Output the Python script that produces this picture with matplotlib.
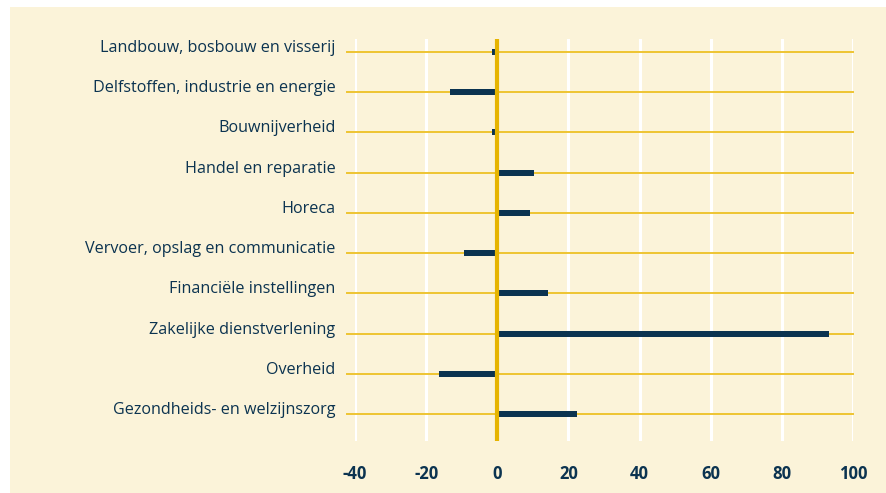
import matplotlib.pyplot as plt
from matplotlib.patches import Rectangle

categories = [
    "Landbouw, bosbouw en visserij",
    "Delfstoffen, industrie en energie",
    "Bouwnijverheid",
    "Handel en reparatie",
    "Horeca",
    "Vervoer, opslag en communicatie",
    "Financiële instellingen",
    "Zakelijke dienstverlening",
    "Overheid",
    "Gezondheids- en welzijnszorg",
]
values = [-1.4, -13.2, -1.4, 10.4, 9.3, -9.3, 14.3, 93.2, -16.3, 22.4]
xticks = [-40, -20, 0, 20, 40, 60, 80, 100]

navy = "#0b3350"
gold = "#e6b400"
line_gold = "#eec431"
cream = "#fbf3d9"

W, H = 886, 493
fig = plt.figure(figsize=(W / 100, H / 100), dpi=100)
fig.patch.set_facecolor("white")
fig.patches.append(Rectangle((10 / W, 0), 1, 1 - 7 / H, transform=fig.transFigure,
                             facecolor=cream, edgecolor="none", zorder=-10))

ax = fig.add_axes([355 / W, 1 - 441 / H, (853 - 355) / W, (441 - 39) / H])
ax.set_facecolor(cream)
for s in ax.spines.values():
    s.set_visible(False)

ypos = list(range(len(categories)))

# horizontal category lines, extending a bit left of the axes
for y in ypos:
    ax.plot([-42.3, 100], [y, y], color=line_gold, lw=1.4, zorder=1, clip_on=False)

# white vertical gridlines
for x in xticks:
    if x != 0:
        ax.axvline(x, color="white", lw=2.2, zorder=0.5)

# bars, offset slightly from the zero line
lefts = [0.5 if v > 0 else v for v in values]
widths = [v - 0.5 if v > 0 else -v - 0.3 for v in values]
ax.barh(ypos, widths, left=lefts, height=0.15, color=navy, zorder=3)

ax.axvline(0, color=gold, lw=3, zorder=4)

ax.set_xlim(-40, 100)
ax.set_ylim(9.67, -0.32)

ax.set_yticks(ypos)
ax.set_yticklabels(categories, fontsize=11.6, color=navy, fontfamily="Open Sans")
ax.tick_params(axis="y", length=0, pad=14)
for lab in ax.get_yticklabels():
    lab.set_verticalalignment("baseline")

ax.set_xticks(xticks)
ax.set_xticklabels([str(x) for x in xticks], fontsize=12, color=navy,
                   fontweight="bold", fontfamily="Open Sans")
ax.tick_params(axis="x", length=0, pad=17)

fig.savefig("out.png", dpi=100, facecolor=fig.get_facecolor())
